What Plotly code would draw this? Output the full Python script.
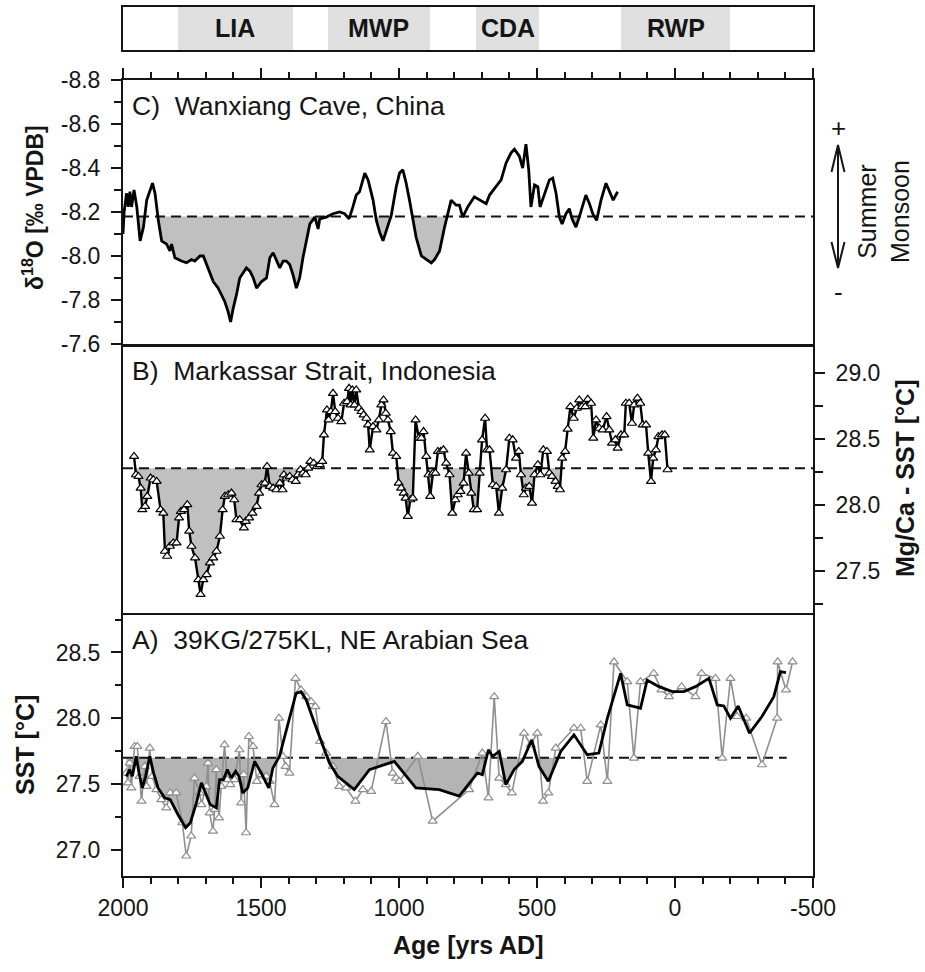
import plotly.graph_objects as go
import numpy as np

W, H = 925, 972

# ---------------- DATA ----------------
period_names = ["LIA", "MWP", "CDA", "RWP"]
period_start = [1800, 1257, 720, 196]
period_end = [1385, 889, 491, -200]

# Panel C: Wanxiang Cave d18O
c_years = [2000, 1996, 1987, 1981, 1975, 1969, 1960, 1950, 1938, 1926, 1914, 1893, 1884, 1872, 1860,
           1842, 1830, 1824, 1812, 1800, 1788, 1770, 1752, 1740, 1721, 1709, 1697, 1685, 1673, 1655,
           1643, 1631, 1619, 1610, 1601, 1589, 1577, 1565, 1553, 1540, 1528, 1516, 1498, 1480, 1468,
           1456, 1444, 1432, 1420, 1408, 1396, 1384, 1372, 1360, 1348, 1335, 1323, 1305, 1293, 1287,
           1263, 1239, 1215, 1197, 1181, 1167, 1155, 1143, 1124, 1112, 1094, 1082, 1070, 1058, 1046,
           1028, 1010, 998, 986, 974, 962, 950, 938, 919, 901, 883, 871, 853, 835, 823, 811, 793,
           781, 769, 751, 727, 708, 684, 672, 648, 630, 612, 594, 582, 564, 552, 540, 530, 522, 509,
           497, 489, 473, 455, 443, 431, 419, 409, 395, 383, 373, 359, 347, 335, 323, 310, 298, 284,
           268, 250, 238, 224, 208]
c_d18o = [-8.10, -8.20, -8.285, -8.223, -8.292, -8.223, -8.30, -8.223, -8.069, -8.131, -8.254, -8.331,
          -8.285, -8.162, -8.069, -8.054, -8.023, -8.054, -7.992, -7.984, -7.977, -7.969, -7.984, -7.977,
          -8.00, -8.00, -7.961, -7.915, -7.884, -7.854, -7.823, -7.792, -7.746, -7.70, -7.761, -7.823,
          -7.90, -7.923, -7.946, -7.931, -7.90, -7.854, -7.884, -7.90, -7.992, -8.015, -7.977, -7.946,
          -7.977, -7.977, -7.961, -7.915, -7.854, -7.90, -7.992, -8.069, -8.146, -8.177, -8.123, -8.169,
          -8.177, -8.192, -8.20, -8.192, -8.169, -8.223, -8.277, -8.292, -8.377, -8.346, -8.254, -8.162,
          -8.108, -8.069, -8.115, -8.185, -8.315, -8.377, -8.392, -8.331, -8.254, -8.162, -8.085, -8.00,
          -7.984, -7.969, -7.984, -8.023, -8.131, -8.192, -8.254, -8.231, -8.231, -8.177, -8.223, -8.269,
          -8.254, -8.238, -8.277, -8.315, -8.346, -8.423, -8.469, -8.485, -8.454, -8.40, -8.508, -8.392,
          -8.223, -8.323, -8.315, -8.223, -8.285, -8.346, -8.354, -8.285, -8.177, -8.146, -8.192, -8.215,
          -8.169, -8.131, -8.177, -8.223, -8.277, -8.238, -8.192, -8.162, -8.254, -8.331, -8.292, -8.254,
          -8.292]
c_base = -8.18

# Panel B: Makassar Strait Mg/Ca SST
b_years = [1960, 1953, 1944, 1936, 1930, 1920, 1912, 1900, 1890, 1878, 1864, 1854, 1848, 1840, 1830,
           1818, 1806, 1797, 1790, 1779, 1767, 1760, 1752, 1739, 1727, 1719, 1709, 1697, 1685, 1673,
           1661, 1649, 1639, 1631, 1619, 1607, 1597, 1589, 1577, 1562, 1555, 1543, 1531, 1516, 1507,
           1498, 1486, 1478, 1468, 1456, 1444, 1432, 1422, 1417, 1408, 1396, 1386, 1374, 1366, 1357,
           1348, 1338, 1329, 1321, 1309, 1297, 1287, 1278, 1272, 1261, 1255, 1247, 1239, 1231, 1221,
           1209, 1199, 1188, 1181, 1175, 1169, 1161, 1155, 1145, 1136, 1128, 1118, 1112, 1106, 1094,
           1082, 1073, 1064, 1056, 1048, 1040, 1030, 1022, 1010, 1001, 992, 983, 976, 968, 959, 950,
           940, 928, 919, 911, 901, 893, 887, 877, 868, 859, 849, 839, 829, 817, 807, 796, 787, 777,
           766, 757, 747, 738, 729, 717, 708, 699, 688, 681, 672, 660, 648, 638, 626, 612, 600, 588,
           576, 566, 558, 548, 540, 528, 518, 509, 497, 488, 477, 464, 455, 446, 433, 425, 417, 409,
           398, 389, 379, 367, 356, 347, 337, 325, 316, 304, 296, 286, 274, 262, 248, 238, 228, 216,
           208, 196, 184, 178, 166, 156, 148, 136, 126, 117, 105, 97, 87, 79, 69, 60, 47, 37, 27]
b_sst = [28.369, 28.230, 28.217, 28.129, 27.965, 27.990, 28.066, 28.205, 28.192, 28.179, 27.965, 27.939,
         27.649, 27.611, 27.687, 27.712, 27.712, 27.902, 27.952, 27.965, 28.003, 27.801, 27.687, 27.598,
         27.434, 27.321, 27.434, 27.472, 27.561, 27.598, 27.649, 27.763, 27.965, 28.066, 28.078, 28.091,
         28.040, 27.889, 27.889, 27.826, 27.876, 27.902, 27.939, 27.990, 28.091, 28.154, 28.167, 28.293,
         28.141, 28.129, 28.116, 28.167, 28.116, 28.230, 28.205, 28.217, 28.192, 28.179, 28.230, 28.268,
         28.242, 28.230, 28.280, 28.331, 28.318, 28.293, 28.306, 28.331, 28.533, 28.722, 28.646, 28.710,
         28.848, 28.710, 28.659, 28.634, 28.773, 28.785, 28.886, 28.760, 28.874, 28.760, 28.874, 28.735,
         28.710, 28.684, 28.659, 28.609, 28.419, 28.596, 28.571, 28.646, 28.760, 28.798, 28.697, 28.646,
         28.558, 28.394, 28.369, 28.167, 28.129, 28.091, 28.053, 27.914, 28.040, 28.053, 28.646, 28.508,
         28.508, 28.558, 28.369, 28.230, 28.066, 28.242, 28.242, 28.407, 28.407, 28.419, 28.318, 28.230,
         27.939, 28.040, 28.078, 28.104, 28.167, 28.394, 28.242, 28.091, 27.965, 27.965, 28.242, 28.495,
         28.659, 28.419, 28.419, 28.154, 28.141, 27.939, 28.129, 28.268, 28.508, 28.495, 28.356, 28.407,
         28.230, 28.078, 28.129, 28.141, 28.015, 28.230, 28.306, 28.230, 28.419, 28.407, 28.242, 28.217,
         28.179, 28.141, 28.116, 28.356, 28.407, 28.576, 28.747, 28.659, 28.735, 28.798, 28.747, 28.747,
         28.803, 28.773, 28.508, 28.646, 28.583, 28.571, 28.672, 28.571, 28.470, 28.495, 28.432, 28.533,
         28.533, 28.773, 28.773, 28.621, 28.760, 28.811, 28.773, 28.609, 28.609, 28.394, 28.179, 28.356,
         28.419, 28.520, 28.533, 28.533, 28.268]
b_base = 28.28

# Panel A: 39KG/275KL raw SST (grey) and smoothed (black)
a_raw_years = [1988, 1982, 1976, 1970, 1958, 1948, 1940, 1933, 1921, 1915, 1903, 1894, 1879, 1861, 1843,
               1829, 1807, 1785, 1771, 1753, 1741, 1722, 1716, 1698, 1692, 1686, 1674, 1668, 1662, 1652,
               1644, 1632, 1622, 1611, 1596, 1578, 1572, 1563, 1554, 1544, 1529, 1515, 1499, 1481, 1469,
               1451, 1435, 1421, 1411, 1397, 1375, 1355, 1336, 1318, 1303, 1286, 1264, 1240, 1216, 1192,
               1158, 1131, 1101, 1047, 1023, 1011, 999, 932, 878, 746, 698, 676, 655, 637, 613, 591, 547,
               523, 499, 478, 459, 432, 366, 342, 318, 269, 245, 221, 173, 149, 125, 77, 49, 22, -24, -74,
               -96, -147, -171, -201, -225, -258, -315, -370, -372, -402, -426]
a_raw_sst = [27.583, 27.508, 27.659, 27.470, 27.785, 27.785, 27.558, 27.369, 27.634, 27.482, 27.773, 27.558,
             27.457, 27.381, 27.318, 27.432, 27.432, 27.205, 26.952, 27.104, 27.545, 27.432, 27.343, 27.482,
             27.659, 27.280, 27.141, 27.306, 27.609, 27.242, 27.482, 27.798, 27.533, 27.495, 27.533, 27.760,
             27.356, 27.571, 27.129, 27.861, 27.785, 27.520, 27.571, 27.558, 27.520, 27.343, 28.000, 27.710,
             27.634, 27.583, 28.303, 28.215, 28.164, 28.126, 28.088, 27.823, 27.735, 27.634, 27.482, 27.470,
             27.369, 27.457, 27.444, 27.975, 27.583, 27.545, 27.520, 27.710, 27.217, 27.457, 27.735, 27.394,
             28.164, 27.545, 27.495, 27.432, 27.886, 27.798, 27.886, 27.369, 27.432, 27.773, 27.924, 27.924,
             27.520, 27.949, 27.520, 28.429, 28.278, 27.697, 28.278, 28.341, 28.215, 28.164, 28.240, 28.164,
             28.341, 28.303, 27.697, 28.303, 28.013, 28.000, 27.646, 28.000, 28.429, 28.215, 28.429]
a_smooth_years = [1988, 1976, 1966, 1952, 1942, 1930, 1918, 1903, 1889, 1873, 1849, 1829, 1801, 1773, 1756,
                  1734, 1716, 1698, 1684, 1662, 1650, 1636, 1622, 1608, 1592, 1580, 1566, 1548, 1523, 1499,
                  1472, 1457, 1433, 1411, 1391, 1373, 1355, 1336, 1306, 1276, 1252, 1222, 1162, 1107, 1017,
                  939, 854, 782, 734, 716, 698, 676, 661, 637, 613, 583, 553, 519, 493, 459, 414, 366, 318,
                  276, 245, 221, 197, 173, 125, 101, 58, 10, -32, -74, -123, -153, -177, -201, -229, -270,
                  -315, -358, -382, -402]
a_smooth_sst = [27.558, 27.609, 27.558, 27.710, 27.583, 27.470, 27.558, 27.710, 27.583, 27.470, 27.394,
                27.381, 27.268, 27.167, 27.205, 27.356, 27.508, 27.407, 27.343, 27.318, 27.533, 27.533,
                27.609, 27.545, 27.596, 27.558, 27.432, 27.470, 27.672, 27.583, 27.470, 27.621, 27.710,
                27.886, 28.038, 28.189, 28.202, 28.139, 27.962, 27.785, 27.659, 27.558, 27.457, 27.609,
                27.672, 27.470, 27.457, 27.407, 27.533, 27.583, 27.571, 27.760, 27.710, 27.747, 27.495,
                27.609, 27.672, 27.836, 27.634, 27.520, 27.747, 27.874, 27.722, 27.735, 28.000, 28.164,
                28.341, 28.101, 28.076, 28.290, 28.240, 28.202, 28.202, 28.240, 28.303, 28.101, 28.093,
                28.000, 28.093, 27.886, 28.013, 28.164, 28.354, 28.346]
a_base = 27.7
a_base_span = [2000, -405]

c_ticks = [-8.8, -8.6, -8.4, -8.2, -8.0, -7.8, -7.6]
c_ticktext = ["-8.8", "-8.6", "-8.4", "-8.2", "-8.0", "-7.8", "-7.6"]
b_ticks = [27.5, 28.0, 28.5, 29.0]
b_ticktext = ["27.5", "28.0", "28.5", "29.0"]
a_ticks = [27.0, 27.5, 28.0, 28.5]
a_ticktext = ["27.0", "27.5", "28.0", "28.5"]
x_ticks = [2000, 1500, 1000, 500, 0, -500]
x_ticktext = ["2000", "1500", "1000", "500", "0", "-500"]

# ---------------- HELPERS ----------------
FONT = "Liberation Sans, Arial, sans-serif"
INK = "#151515"


def px(x):
    return x / W


def py(y):
    return 1 - y / H


def fill_poly(xs, ys, base, above):
    fx, fy = [], []
    for i in range(len(xs)):
        if i > 0:
            d0, d1 = ys[i - 1] - base, ys[i] - base
            if d0 * d1 < 0:
                t = d0 / (d0 - d1)
                fx.append(xs[i - 1] + t * (xs[i] - xs[i - 1]))
                fy.append(base)
        fx.append(xs[i])
        fy.append(max(ys[i], base) if above else min(ys[i], base))
    return fx + [fx[-1], fx[0]], fy + [base, base]


fig = go.Figure()

# ---- top period bar ----
mids = [(s + e) / 2 for s, e in zip(period_start, period_end)]
widths = [abs(s - e) for s, e in zip(period_start, period_end)]
fig.add_trace(go.Bar(x=mids, y=[1] * len(mids), base=[0] * len(mids), width=widths,
                     marker=dict(color="#e0e0e0", line=dict(width=0)),
                     xaxis="x4", yaxis="y4", showlegend=False))

# ---- panel C ----
fx, fy = fill_poly(c_years, c_d18o, c_base, above=True)
fig.add_trace(go.Scatter(x=fx, y=fy, fill="toself", fillcolor="#c0c0c0", line=dict(width=0),
                         mode="lines", xaxis="x3", yaxis="y3", showlegend=False))
fig.add_trace(go.Scatter(x=[2000, -500], y=[c_base, c_base], mode="lines",
                         line=dict(color=INK, width=2, dash="10px,6px"),
                         xaxis="x3", yaxis="y3", showlegend=False))
fig.add_trace(go.Scatter(x=c_years, y=c_d18o, mode="lines", line=dict(color="black", width=2.8),
                         xaxis="x3", yaxis="y3", showlegend=False))

# ---- panel B ----
fx, fy = fill_poly(b_years, b_sst, b_base, above=False)
fig.add_trace(go.Scatter(x=fx, y=fy, fill="toself", fillcolor="#c0c0c0", line=dict(width=0),
                         mode="lines", xaxis="x2", yaxis="y2", showlegend=False))
fig.add_trace(go.Scatter(x=[2000, -500], y=[b_base, b_base], mode="lines",
                         line=dict(color=INK, width=2, dash="10px,6px"),
                         xaxis="x2", yaxis="y2", showlegend=False))
fig.add_trace(go.Scatter(x=b_years, y=b_sst, mode="lines+markers",
                         line=dict(color="black", width=2.4),
                         marker=dict(symbol="triangle-up", size=8, color="white",
                                     line=dict(color="black", width=1.2)),
                         xaxis="x2", yaxis="y2", showlegend=False))

# ---- panel A ----
fx, fy = fill_poly(a_smooth_years, a_smooth_sst, a_base, above=False)
fig.add_trace(go.Scatter(x=fx, y=fy, fill="toself", fillcolor="#b4b4b4", line=dict(width=0),
                         mode="lines", xaxis="x", yaxis="y", showlegend=False))
fig.add_trace(go.Scatter(x=a_base_span, y=[a_base, a_base], mode="lines",
                         line=dict(color=INK, width=2, dash="10px,6px"),
                         xaxis="x", yaxis="y", showlegend=False))
fig.add_trace(go.Scatter(x=a_raw_years, y=a_raw_sst, mode="lines+markers",
                         line=dict(color="#8f8f8f", width=1.6),
                         marker=dict(symbol="triangle-up", size=8, color="white",
                                     line=dict(color="#8f8f8f", width=1.2)),
                         xaxis="x", yaxis="y", showlegend=False))
fig.add_trace(go.Scatter(x=a_smooth_years, y=a_smooth_sst, mode="lines",
                         line=dict(color="black", width=2.8),
                         xaxis="x", yaxis="y", showlegend=False))

# ---------------- LAYOUT ----------------
xdom = [px(123), px(813)]
domA = [py(876), py(613)]
domB = [py(613), py(347)]
domC = [py(344), py(80)]
domT = [py(50), py(7)]

base_line = dict(showline=True, linecolor=INK, linewidth=2, mirror=True,
                 showgrid=False, zeroline=False, automargin=False)
tickfont = dict(family=FONT, size=23, color=INK)

fig.update_layout(
    width=W, height=H,
    margin=dict(l=0, r=0, t=0, b=0, autoexpand=False),
    paper_bgcolor="white", plot_bgcolor="white",
    showlegend=False,
    xaxis=dict(domain=xdom, range=[2000, -500], anchor="y", side="bottom",
               tickmode="array", tickvals=x_ticks, ticktext=x_ticktext,
               ticks="outside", ticklen=10, tickwidth=2, tickcolor=INK, tickfont=tickfont,
               minor=dict(tickmode="array", tickvals=list(range(1900, -500, -100)),
                          ticks="outside", ticklen=6, tickwidth=2, tickcolor=INK),
               showline=True, linecolor=INK, linewidth=2, mirror=False,
               showgrid=False, zeroline=False, automargin=False),
    yaxis=dict(domain=domA, range=[26.8, 28.8], anchor="x",
               tickmode="array", tickvals=a_ticks, ticktext=a_ticktext,
               ticks="outside", ticklen=10, tickwidth=2, tickcolor=INK, tickfont=tickfont,
               ticklabelstandoff=6,
               minor=dict(tickmode="array", tickvals=[26.75, 27.25, 27.75, 28.25, 28.75],
                          ticks="outside", ticklen=6, tickwidth=2, tickcolor=INK),
               **base_line),
    xaxis2=dict(domain=xdom, range=[2000, -500], anchor="y2", showticklabels=False,
                ticks="", **base_line),
    yaxis2=dict(domain=domB, range=[27.18, 29.2], anchor="x2", side="right",
                tickmode="array", tickvals=b_ticks, ticktext=b_ticktext,
                ticks="outside", ticklen=10, tickwidth=2, tickcolor=INK, tickfont=tickfont,
                ticklabelstandoff=6,
                minor=dict(tickmode="array", tickvals=[27.25, 27.75, 28.25, 28.75],
                           ticks="outside", ticklen=8, tickwidth=2, tickcolor=INK),
                **base_line),
    xaxis3=dict(domain=xdom, range=[2000, -500], anchor="y3", side="top",
                showticklabels=False, tickmode="array", tickvals=x_ticks,
                ticks="outside", ticklen=10, tickwidth=2, tickcolor=INK,
                minor=dict(tickmode="array", tickvals=list(range(1900, -500, -100)),
                           ticks="outside", ticklen=6, tickwidth=2, tickcolor=INK),
                **base_line),
    yaxis3=dict(domain=domC, range=[-7.6, -8.8], anchor="x3",
                tickmode="array", tickvals=c_ticks, ticktext=c_ticktext,
                ticks="outside", ticklen=10, tickwidth=2, tickcolor=INK, tickfont=tickfont,
                ticklabelstandoff=6,
                minor=dict(tickmode="array", tickvals=[-8.7, -8.5, -8.3, -8.1, -7.9, -7.7],
                           ticks="outside", ticklen=7, tickwidth=2, tickcolor=INK),
                **base_line),
    xaxis4=dict(domain=xdom, range=[2000, -500], anchor="y4", showticklabels=False,
                ticks="", **base_line),
    yaxis4=dict(domain=domT, range=[0, 1], anchor="x4", showticklabels=False,
                ticks="", **base_line),
    bargap=0,
)

ann = []
# period labels
for name, m in zip(period_names, mids):
    ann.append(dict(x=m, y=0.5, xref="x4", yref="y4", text=f"<b>{name}</b>", showarrow=False,
                    font=dict(family=FONT, size=25, color=INK), xanchor="center", yanchor="middle"))

sp = "\u00a0\u00a0"
panel_font = dict(family=FONT, size=26.5, color=INK)
for label, ycen in [("C)" + sp + "Wanxiang Cave, China", 106),
                    ("B)" + sp + "Markassar Strait, Indonesia", 371),
                    ("A)" + sp + "39KG/275KL, NE Arabian Sea", 640)]:
    ann.append(dict(x=px(130), y=py(ycen), xref="paper", yref="paper", text=label, showarrow=False,
                    font=panel_font, xanchor="left", yanchor="middle"))

title_font = dict(family=FONT, size=25, color=INK)
ann.append(dict(x=px(33), y=py(208), xref="paper", yref="paper",
                text="<b>\u03b4<sup>18</sup>O [\u2030 VPDB]</b>", showarrow=False, textangle=-90,
                font=dict(family=FONT, size=23, color=INK), xanchor="center", yanchor="middle"))
ann.append(dict(x=px(25), y=py(745), xref="paper", yref="paper",
                text="<b>SST [\u00b0C]</b>", showarrow=False, textangle=-90,
                font=title_font, xanchor="center", yanchor="middle"))
ann.append(dict(x=px(905), y=py(478), xref="paper", yref="paper",
                text="<b>Mg/Ca - SST [\u00b0C]</b>", showarrow=False, textangle=-90,
                font=title_font, xanchor="center", yanchor="middle"))
ann.append(dict(x=px(468), y=py(945), xref="paper", yref="paper",
                text="<b>Age [yrs AD]</b>", showarrow=False,
                font=title_font, xanchor="center", yanchor="middle"))
# monsoon annotation
ann.append(dict(x=px(838), y=py(128), xref="paper", yref="paper", text="+", showarrow=False,
                font=dict(family=FONT, size=26, color=INK), xanchor="center", yanchor="middle"))
ann.append(dict(x=px(838), y=py(292), xref="paper", yref="paper", text="-", showarrow=False,
                font=dict(family=FONT, size=26, color=INK), xanchor="center", yanchor="middle"))
ann.append(dict(x=px(883), y=py(212), xref="paper", yref="paper", text="Summer<br>Monsoon",
                showarrow=False, textangle=-90,
                font=dict(family=FONT, size=25, color=INK), xanchor="center", yanchor="middle"))
fig.update_layout(annotations=ann)

# double-headed arrow (decoration)
shapes = [
    dict(type="line", xref="paper", yref="paper", x0=px(838), x1=px(838), y0=py(147), y1=py(266),
         line=dict(color=INK, width=2)),
    dict(type="path", xref="paper", yref="paper",
         path=f"M {px(831.5)},{py(172)} L {px(838)},{py(145)} L {px(844.5)},{py(172)}",
         line=dict(color=INK, width=2)),
    dict(type="path", xref="paper", yref="paper",
         path=f"M {px(831.5)},{py(242)} L {px(838)},{py(268)} L {px(844.5)},{py(242)}",
         line=dict(color=INK, width=2)),
]
fig.update_layout(shapes=shapes)

fig.write_html("out.html")
